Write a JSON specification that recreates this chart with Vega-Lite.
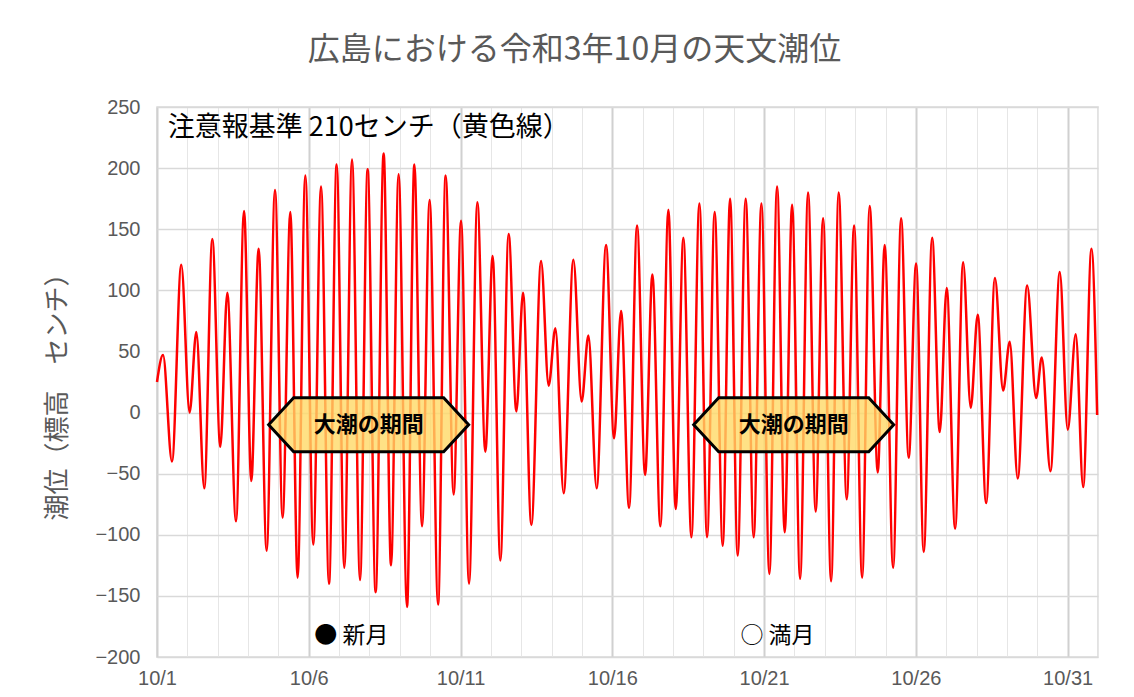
{
  "$schema": "https://vega.github.io/schema/vega-lite/v6.json",
  "width": 941,
  "height": 550,
  "autosize": {"type": "none"},
  "padding": {"left": 157, "top": 107, "right": 36, "bottom": 40},
  "background": "white",
  "title": {"text": "広島における令和3年10月の天文潮位", "font": "Noto Sans CJK JP", "fontSize": 32, "fontWeight": "normal", "color": "#595959", "anchor": "middle", "frame": "group", "dx": -53, "offset": 30},
  "config": {"view": {"stroke": "#d9d9d9", "strokeWidth": 1.5}, "font": "Noto Sans CJK JP"},
  "datasets": {
    "tide": [
      {"t": "2021-10-01T00:00", "v": 25}, {"t": "2021-10-01T04:45", "v": 47}, {"t": "2021-10-01T11:51", "v": -40}, {"t": "2021-10-01T19:12", "v": 121},
      {"t": "2021-10-02T01:47", "v": 0}, {"t": "2021-10-02T07:05", "v": 66}, {"t": "2021-10-02T13:23", "v": -62}, {"t": "2021-10-02T19:44", "v": 142},
      {"t": "2021-10-03T02:04", "v": -28}, {"t": "2021-10-03T07:35", "v": 98}, {"t": "2021-10-03T14:28", "v": -89}, {"t": "2021-10-03T20:49", "v": 165},
      {"t": "2021-10-04T02:34", "v": -56}, {"t": "2021-10-04T08:21", "v": 134}, {"t": "2021-10-04T14:40", "v": -113}, {"t": "2021-10-04T21:19", "v": 182},
      {"t": "2021-10-05T03:19", "v": -86}, {"t": "2021-10-05T09:24", "v": 164}, {"t": "2021-10-05T15:11", "v": -135}, {"t": "2021-10-05T21:16", "v": 194},
      {"t": "2021-10-06T03:36", "v": -108}, {"t": "2021-10-06T09:42", "v": 185}, {"t": "2021-10-06T16:00", "v": -140}, {"t": "2021-10-06T22:02", "v": 203},
      {"t": "2021-10-07T04:06", "v": -127}, {"t": "2021-10-07T10:12", "v": 207}, {"t": "2021-10-07T16:32", "v": -137}, {"t": "2021-10-07T22:32", "v": 199},
      {"t": "2021-10-08T04:52", "v": -147}, {"t": "2021-10-08T11:11", "v": 212}, {"t": "2021-10-08T17:02", "v": -125}, {"t": "2021-10-08T23:02", "v": 195},
      {"t": "2021-10-09T05:41", "v": -159}, {"t": "2021-10-09T11:28", "v": 203}, {"t": "2021-10-09T17:33", "v": -93}, {"t": "2021-10-09T23:34", "v": 174},
      {"t": "2021-10-10T06:13", "v": -157}, {"t": "2021-10-10T12:13", "v": 194}, {"t": "2021-10-10T18:33", "v": -67},
      {"t": "2021-10-11T00:23", "v": 157}, {"t": "2021-10-11T06:43", "v": -140}, {"t": "2021-10-11T13:18", "v": 172}, {"t": "2021-10-11T19:36", "v": -32},
      {"t": "2021-10-12T01:23", "v": 128}, {"t": "2021-10-12T07:28", "v": -121}, {"t": "2021-10-12T14:02", "v": 146}, {"t": "2021-10-12T20:08", "v": 1},
      {"t": "2021-10-13T01:25", "v": 98}, {"t": "2021-10-13T07:59", "v": -92}, {"t": "2021-10-13T15:39", "v": 124}, {"t": "2021-10-13T21:40", "v": 22},
      {"t": "2021-10-14T02:59", "v": 69}, {"t": "2021-10-14T09:32", "v": -66}, {"t": "2021-10-14T17:12", "v": 125}, {"t": "2021-10-14T23:46", "v": 9},
      {"t": "2021-10-15T05:04", "v": 63}, {"t": "2021-10-15T11:37", "v": -62}, {"t": "2021-10-15T19:03", "v": 137},
      {"t": "2021-10-16T01:23", "v": -21}, {"t": "2021-10-16T06:55", "v": 83}, {"t": "2021-10-16T13:15", "v": -78}, {"t": "2021-10-16T19:34", "v": 153},
      {"t": "2021-10-17T01:54", "v": -51}, {"t": "2021-10-17T07:41", "v": 113}, {"t": "2021-10-17T13:59", "v": -93}, {"t": "2021-10-17T20:20", "v": 166},
      {"t": "2021-10-18T02:07", "v": -79}, {"t": "2021-10-18T08:11", "v": 143}, {"t": "2021-10-18T14:31", "v": -102}, {"t": "2021-10-18T20:50", "v": 171},
      {"t": "2021-10-19T02:56", "v": -102}, {"t": "2021-10-19T08:56", "v": 164}, {"t": "2021-10-19T15:16", "v": -109}, {"t": "2021-10-19T21:07", "v": 175},
      {"t": "2021-10-20T03:07", "v": -117}, {"t": "2021-10-20T09:27", "v": 175}, {"t": "2021-10-20T15:46", "v": -102}, {"t": "2021-10-20T21:52", "v": 171},
      {"t": "2021-10-21T04:11", "v": -132}, {"t": "2021-10-21T10:16", "v": 185}, {"t": "2021-10-21T16:18", "v": -98}, {"t": "2021-10-21T22:08", "v": 170},
      {"t": "2021-10-22T04:28", "v": -136}, {"t": "2021-10-22T10:48", "v": 180}, {"t": "2021-10-22T16:48", "v": -81}, {"t": "2021-10-22T22:39", "v": 159},
      {"t": "2021-10-23T04:59", "v": -138}, {"t": "2021-10-23T10:59", "v": 180}, {"t": "2021-10-23T17:20", "v": -71}, {"t": "2021-10-23T23:10", "v": 153},
      {"t": "2021-10-24T05:30", "v": -135}, {"t": "2021-10-24T11:31", "v": 169}, {"t": "2021-10-24T17:50", "v": -49}, {"t": "2021-10-24T23:22", "v": 137},
      {"t": "2021-10-25T06:01", "v": -127}, {"t": "2021-10-25T12:20", "v": 159}, {"t": "2021-10-25T18:20", "v": -37},
      {"t": "2021-10-26T00:12", "v": 122}, {"t": "2021-10-26T06:13", "v": -114}, {"t": "2021-10-26T12:52", "v": 143}, {"t": "2021-10-26T18:52", "v": -16},
      {"t": "2021-10-27T00:24", "v": 102}, {"t": "2021-10-27T07:02", "v": -95}, {"t": "2021-10-27T13:22", "v": 123}, {"t": "2021-10-27T19:22", "v": 4},
      {"t": "2021-10-28T00:55", "v": 80}, {"t": "2021-10-28T07:34", "v": -74}, {"t": "2021-10-28T14:31", "v": 110}, {"t": "2021-10-28T21:00", "v": 18},
      {"t": "2021-10-29T02:12", "v": 58}, {"t": "2021-10-29T08:33", "v": -54}, {"t": "2021-10-29T15:59", "v": 104}, {"t": "2021-10-29T23:05", "v": 12},
      {"t": "2021-10-30T03:32", "v": 45}, {"t": "2021-10-30T10:24", "v": -48}, {"t": "2021-10-30T17:46", "v": 115},
      {"t": "2021-10-31T00:04", "v": -14}, {"t": "2021-10-31T06:24", "v": 64}, {"t": "2021-10-31T12:16", "v": -61}, {"t": "2021-10-31T18:49", "v": 134}, {"t": "2021-10-31T23:20", "v": -2}
    ],
    "spring": [
      {"t": "2021-10-07T23:20", "v": -10, "label": "大潮の期間"},
      {"t": "2021-10-21T23:24", "v": -10, "label": "大潮の期間"}
    ],
    "notes": [
      {"t": "2021-10-01T08:30", "v": 233, "label": "注意報基準 210センチ（黄色線）", "kind": "big"},
      {"t": "2021-10-06T04:24", "v": -183, "label": "● 新月", "kind": "moon"},
      {"t": "2021-10-20T05:15", "v": -183, "label": "○ 満月", "kind": "moon"}
    ]
  },
  "layer": [
    {
      "data": {"name": "tide"},
      "mark": {"type": "line", "color": "#FF0000", "strokeWidth": 2.5, "interpolate": "monotone"},
      "encoding": {
        "x": {
          "field": "t", "type": "temporal", "title": null,
          "scale": {"domain": [{"year": 2021, "month": 10, "date": 1}, {"year": 2021, "month": 11, "date": 1}], "nice": false},
          "axis": {
            "tickCount": {"interval": "day", "step": 1},
            "labelExpr": "(date(datum.value) - 1) % 5 === 0 && month(datum.value) === 9 ? timeFormat(datum.value, '%-m/%-d') : ''",
            "labelOverlap": false, "labelFlush": false, "labelBound": false,
            "ticks": false, "domain": false, "grid": true,
            "gridColor": {"condition": {"test": "(date(datum.value) - 1) % 5 === 0 && month(datum.value) === 9", "value": "#d0d0d0"}, "value": "#e6e6e6"},
            "gridWidth": {"condition": {"test": "(date(datum.value) - 1) % 5 === 0 && month(datum.value) === 9", "value": 2}, "value": 1},
            "labelColor": "#595959", "labelFont": "Liberation Sans", "labelFontSize": 20, "labelPadding": 11
          }
        },
        "y": {
          "field": "v", "type": "quantitative",
          "scale": {"domain": [-200, 250], "nice": false},
          "axis": {
            "values": [-200, -150, -100, -50, 0, 50, 100, 150, 200, 250],
            "title": "潮位（標高　センチ）", "titleFont": "Noto Sans CJK JP", "titleFontSize": 26, "titleFontWeight": "normal", "titleColor": "#595959",
            "titleX": -100, "titleY": 283, "titleAlign": "center", "titleBaseline": "middle", "titleAngle": -90,
            "labelColor": "#595959", "labelFont": "Liberation Sans", "labelFontSize": 20, "labelPadding": 17,
            "ticks": false, "domain": false, "gridColor": "#d9d9d9", "gridWidth": 1.5
          }
        }
      }
    },
    {
      "mark": {"type": "rule", "color": "#FFCC00", "strokeWidth": 4},
      "encoding": {"y": {"datum": 210, "type": "quantitative"}}
    },
    {
      "data": {"name": "spring"},
      "mark": {"type": "point", "shape": "M-1,0L-0.75,-0.27L0.75,-0.27L1,0L0.75,0.27L-0.75,0.27Z", "size": 40000, "filled": true, "fill": "#FFD966", "fillOpacity": 0.8, "stroke": "#000000", "strokeWidth": 3, "strokeOpacity": 1, "opacity": 1},
      "encoding": {"x": {"field": "t", "type": "temporal"}, "y": {"field": "v", "type": "quantitative"}}
    },
    {
      "data": {"name": "spring"},
      "mark": {"type": "text", "fontSize": 22, "fontWeight": "bold", "color": "#000000", "font": "Noto Sans CJK JP", "baseline": "middle", "align": "center"},
      "encoding": {"x": {"field": "t", "type": "temporal"}, "y": {"field": "v", "type": "quantitative"}, "text": {"field": "label"}}
    },
    {
      "data": {"name": "notes"},
      "mark": {"type": "text", "color": "#000000", "font": "Noto Sans CJK JP", "align": "left", "baseline": "middle"},
      "encoding": {
        "x": {"field": "t", "type": "temporal"},
        "y": {"field": "v", "type": "quantitative"},
        "text": {"field": "label"},
        "size": {"condition": {"test": "datum.kind === 'big'", "value": 27}, "value": 23}
      }
    }
  ]
}
